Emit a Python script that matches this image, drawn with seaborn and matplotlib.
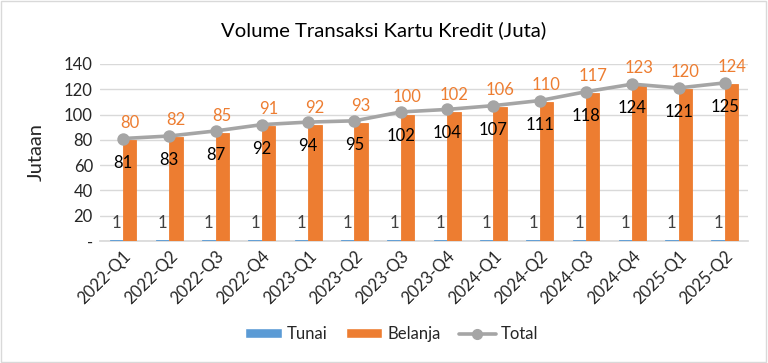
import matplotlib
matplotlib.use("Agg")
import matplotlib.pyplot as plt
import seaborn as sns
import pandas as pd
from matplotlib.patches import Patch, Rectangle
from matplotlib.lines import Line2D

categories = ["2022-Q1", "2022-Q2", "2022-Q3", "2022-Q4", "2023-Q1", "2023-Q2", "2023-Q3",
              "2023-Q4", "2024-Q1", "2024-Q2", "2024-Q3", "2024-Q4", "2025-Q1", "2025-Q2"]
tunai = [1, 1, 1, 1, 1, 1, 1, 1, 1, 1, 1, 1, 1, 1]
belanja = [80, 82, 85, 91, 92, 93, 100, 102, 106, 110, 117, 123, 120, 124]
total = [81, 83, 87, 92, 94, 95, 102, 104, 107, 111, 118, 124, 121, 125]
yticks = [0, 20, 40, 60, 80, 100, 120, 140]
ytick_labels = ["-", "20", "40", "60", "80", "100", "120", "140"]

C_TUNAI = "#5B9BD5"
C_BELANJA = "#ED7D31"
C_TOTAL = "#A5A5A5"

sns.set_theme(style="white")
plt.rcParams["font.family"] = ["Lato", "DejaVu Sans"]

df = pd.DataFrame({
    "Kuartal": categories * 2,
    "Seri": ["Tunai"] * len(categories) + ["Belanja"] * len(categories),
    "Nilai": tunai + belanja,
})
df_total = pd.DataFrame({"Kuartal": categories, "Total": total})

fig = plt.figure(figsize=(7.68, 3.63), dpi=100)
ax = fig.add_axes([0.130, 0.336, 0.844, 0.488])

sns.barplot(data=df, x="Kuartal", y="Nilai", hue="Seri", order=categories,
            hue_order=["Tunai", "Belanja"], palette=[C_TUNAI, C_BELANJA],
            width=0.58, gap=0, ax=ax, legend=False, saturation=1)
for p in ax.patches:
    p.set_zorder(3)
    fc = p.get_facecolor()
    p.set_edgecolor(fc)
    p.set_linewidth(0.6)
sns.pointplot(data=df_total, x="Kuartal", y="Total", order=categories, color=C_TOTAL,
              markers="o", markersize=7, linewidth=2.6, ax=ax, legend=False)
for ln in ax.lines:
    ln.set_zorder(4)
for c in ax.collections:
    c.set_zorder(4)

ax.set_ylim(0, 140)
ax.set_xlim(-0.5, len(categories) - 0.5)
ax.set_yticks(yticks)
ax.set_yticklabels(ytick_labels, fontsize=12)
ax.yaxis.grid(True, color="#D9D9D9", linewidth=1)
ax.set_axisbelow(True)
for s in ["top", "right", "left"]:
    ax.spines[s].set_visible(False)
ax.spines["bottom"].set_color("#D9D9D9")
ax.spines["bottom"].set_zorder(0.5)
ax.tick_params(axis="both", length=0, pad=5)
ax.set_xticks(range(len(categories)))
ax.set_xticklabels(categories, rotation=45, ha="right", rotation_mode="anchor", fontsize=12)
ax.set_xlabel("")
ax.set_ylabel("Jutaan", fontsize=14.5, labelpad=14)

off = 0.145
for i in range(len(categories)):
    ax.text(i - off, tunai[i] + 13, str(tunai[i]), ha="center", va="center", fontsize=12, color="#404040", zorder=5)
    ax.text(i + off, belanja[i] + 13.5, str(belanja[i]), ha="center", va="center", fontsize=12, color=C_BELANJA, zorder=5)
    ax.text(i, total[i] - 19, str(total[i]), ha="center", va="center", fontsize=12, color="black", zorder=5)

fig.text(0.5, 0.918, "Volume Transaksi Kartu Kredit (Juta)", ha="center", va="center", fontsize=14.6, color="black")

handles = [Patch(facecolor=C_TUNAI, label="Tunai"),
           Patch(facecolor=C_BELANJA, label="Belanja"),
           Line2D([0], [0], color=C_TOTAL, lw=2.6, marker="o", markersize=7, label="Total")]
fig.legend(handles=handles, loc="center", bbox_to_anchor=(0.51, 0.08), ncol=3, frameon=False,
           fontsize=12, handlelength=2.2, handleheight=0.5, columnspacing=1.1, handletextpad=0.3)

fig.patches.append(Rectangle((0.001, 0.002), 0.997, 0.995, transform=fig.transFigure,
                             fill=False, edgecolor="#D9D9D9", linewidth=1))

fig.savefig("out.png", dpi=100)
